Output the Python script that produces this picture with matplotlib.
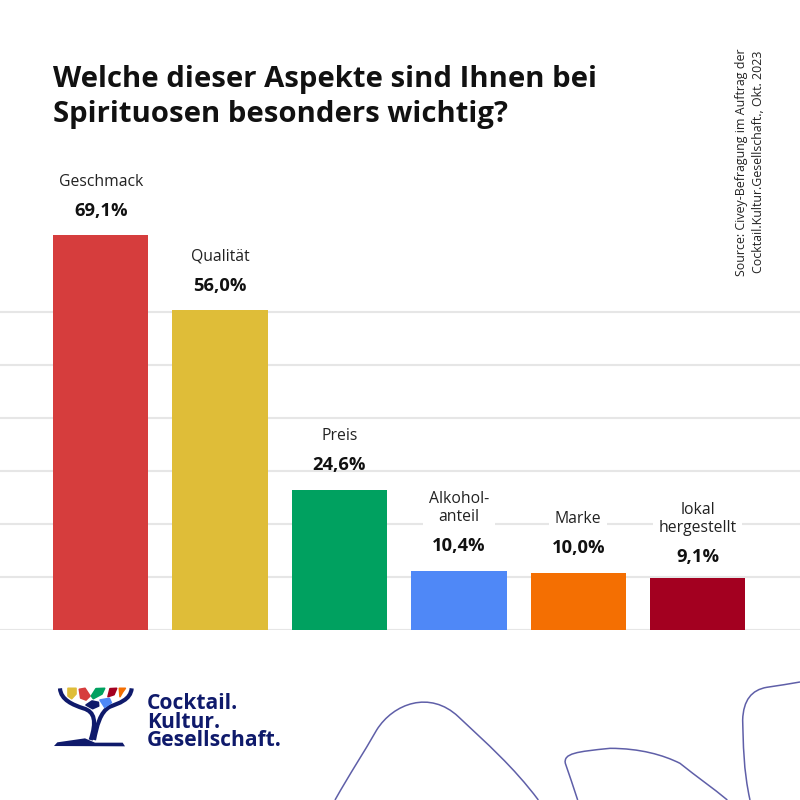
import matplotlib
matplotlib.use("Agg")
import matplotlib.pyplot as plt
from matplotlib.path import Path
from matplotlib.patches import PathPatch, Polygon

categories = ["Geschmack", "Qualität", "Preis", "Alkohol-\nanteil", "Marke", "lokal\nhergestellt"]
values = [69.1, 56.0, 24.6, 10.4, 10.0, 9.1]
value_labels = ["69,1%", "56,0%", "24,6%", "10,4%", "10,0%", "9,1%"]
colors = ["#D63D3D", "#DFBD38", "#00A160", "#4F88F7", "#F46F02", "#A30020"]
grid_levels = [0, 9.28, 18.56, 27.85, 37.13, 46.41, 55.7]
title = "Welche dieser Aspekte sind Ihnen bei\nSpirituosen besonders wichtig?"
source = "Source: Civey-Befragung im Auftrag der\nCocktail.Kultur.Gesellschaft., Okt. 2023"
brand = "Cocktail.\nKultur.\nGesellschaft."

plt.rcParams['font.family'] = ['Open Sans', 'Noto Sans', 'DejaVu Sans']
NAVY = "#0F1A6B"
LINE = "#5F5FA8"

fig = plt.figure(figsize=(8, 8), dpi=100, facecolor="white")

bg = fig.add_axes([0, 0, 1, 1], zorder=3)
bg.set_xlim(0, 800); bg.set_ylim(800, 0); bg.axis("off"); bg.patch.set_alpha(0)

h_px = 80 * 5.71
ax = fig.add_axes([0, (800 - 630) / 800, 1, h_px / 800], zorder=1)
ax.set_ylim(0, 80)
step = 119.4
x0 = 100.7
ax.set_xlim(-x0 / step, (800 - x0) / step)
ax.axis("off")
for g in grid_levels:
    ax.axhline(g, color="#E6E6E6", lw=1.5, zorder=1)
xs = list(range(len(values)))
ax.bar(xs, values, width=95.5 / step, color=colors, zorder=2)

for x, v, c, lab in zip(xs, values, categories, value_labels):
    extra = -3 if x == len(values) - 1 else 0
    ax.annotate(lab, (x, v), xytext=(0, 15.5 + extra), textcoords="offset pixels", ha="center", va="bottom",
                fontsize=13.2, fontweight="bold", color="#111111", zorder=4,
                annotation_clip=False)
    ax.annotate(c, (x, v), xytext=(0, 45.5 + extra), textcoords="offset pixels", ha="center", va="bottom",
                fontsize=11.3, color="#222222", zorder=4, linespacing=1.15,
                bbox=dict(fc="white", ec="none", pad=4), annotation_clip=False)

bg.text(53, 97, title, fontsize=21.1, fontweight="bold", color="#111111", ha="left", va="center", linespacing=1.26)
bg.text(750, 162, source, fontsize=8.9, rotation=90, ha="center", va="center", multialignment="center",
        color="#222222", linespacing=1.42)
bg.text(147, 722, brand, fontsize=15.1, fontweight="bold", color=NAVY, ha="left", va="center", linespacing=0.86)

def z(x, y):
    return (40 + x / 3, 670 + y / 3)

def stroke(pts, lw, color=NAVY):
    codes = [Path.MOVETO] + [Path.CURVE4] * (len(pts) - 1)
    bg.add_patch(PathPatch(Path([z(*p) for p in pts], codes), fc="none", ec=color, lw=lw, capstyle="butt"))

stroke([(60, 55), (62, 90), (100, 105), (130, 115), (165, 125), (170, 155), (152, 210)], 3.0)
stroke([(275, 55), (272, 90), (235, 100), (210, 110), (180, 125), (170, 170), (162, 210)], 3.0)
bg.add_patch(Polygon([z(42, 228), z(52, 217), z(135, 205), z(165, 218), z(248, 218), z(255, 229)], fc=NAVY, ec="none"))
shards = [
    ("#DFBD38", [(84, 55), (108, 55), (108, 72), (95, 86), (84, 78)]),
    ("#D63D3D", [(118, 58), (135, 55), (150, 78), (138, 90), (122, 84)]),
    ("#00A160", [(168, 56), (194, 55), (186, 72), (160, 86), (154, 78)]),
    ("#A30020", [(210, 56), (230, 55), (222, 74), (204, 80)]),
    ("#F46F02", [(238, 55), (256, 55), (248, 66), (240, 80)]),
    ("#4F88F7", [(180, 90), (208, 85), (214, 98), (194, 112)]),
    (NAVY, [(138, 105), (156, 93), (175, 97), (176, 108), (158, 116)]),
]
for col, pts in shards:
    bg.add_patch(Polygon([z(*p) for p in pts], closed=True, fc=col, ec=col, lw=1.2, joinstyle="round"))

def curve(pts):
    verts = [(330 + x / 3, 670 + y / 3) for x, y in pts]
    codes = [Path.MOVETO] + [Path.CURVE4] * (len(pts) - 1)
    bg.add_patch(PathPatch(Path(verts, codes), fc="none", ec=LINE, lw=1.1))

curve([(15, 390), (60, 310), (100, 250), (140, 180), (190, 100), (300, 60), (385, 140),
       (470, 220), (550, 290), (625, 390)])
curve([(743, 390), (730, 350), (718, 315), (706, 280), (700, 250), (740, 245), (840, 235),
       (930, 235), (1000, 255), (1050, 280), (1100, 320), (1150, 355), (1192, 390)])
curve([(1260, 390), (1240, 300), (1240, 220), (1238, 150), (1240, 90), (1265, 60), (1310, 52),
       (1345, 47), (1380, 41), (1410, 36)])

fig.savefig("out.png", dpi=100, facecolor="white")
